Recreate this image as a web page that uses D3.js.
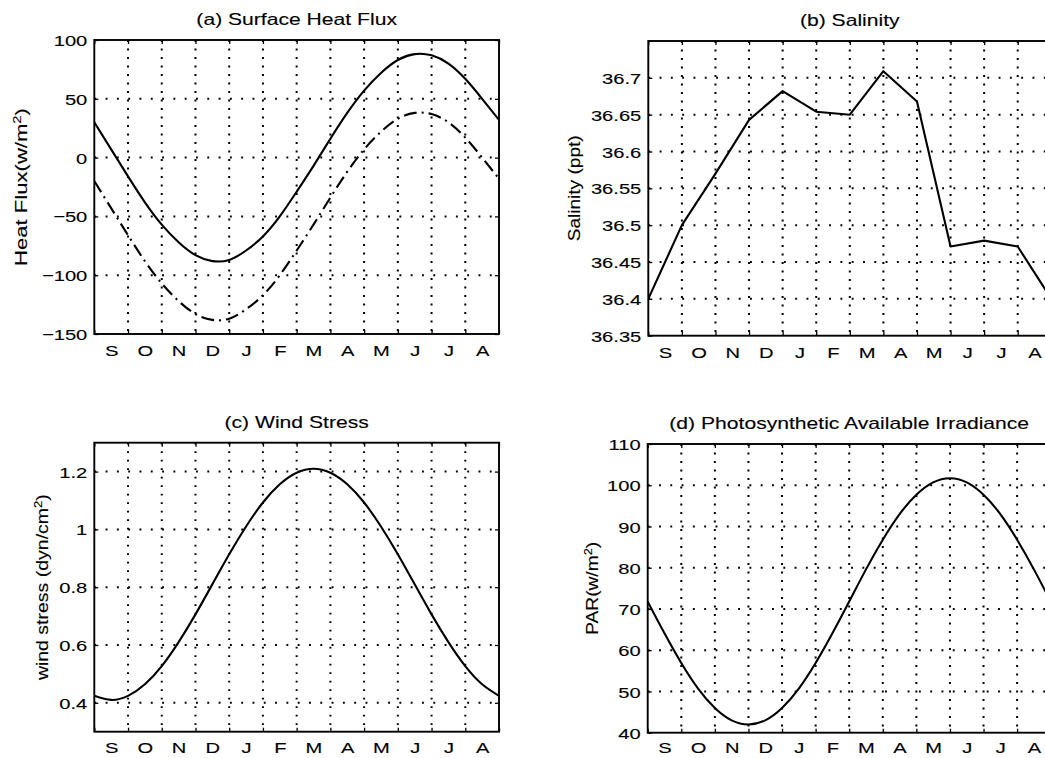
<!DOCTYPE html>
<html>
<head>
<meta charset="utf-8">
<script src="https://cdn.jsdelivr.net/npm/d3@7/dist/d3.min.js"></script>
<style>
  body { margin: 0; background: #fff; }
  svg { display: block; }
  text { stroke: #000; stroke-width: 0.12px; }
</style>
</head>
<body>
<svg id="fig" width="1045" height="758"></svg>
<script>
// Month labels, September to August
const monthLabels = ["S", "O", "N", "D", "J", "F", "M", "A", "M", "J", "J", "A"];
const monthCentres = [0.5, 1.5, 2.5, 3.5, 4.5, 5.5, 6.5, 7.5, 8.5, 9.5, 10.5, 11.5];
const monthEdges = [0, 1, 2, 3, 4, 5, 6, 7, 8, 9, 10, 11, 12];
const interiorEdges = [1, 2, 3, 4, 5, 6, 7, 8, 9, 10, 11];

// Half-monthly sample times (months since 1 September)
const halfMonths = [0, 0.5, 1, 1.5, 2, 2.5, 3, 3.5, 4, 4.5, 5, 5.5, 6, 6.5,
                    7, 7.5, 8, 8.5, 9, 9.5, 10, 10.5, 11, 11.5, 12];

// (a) Surface heat flux, W/m^2
const heatFluxSolid = [30, 7, -16, -38, -57, -72, -83, -88, -87, -79, -67, -50, -29,
                       -7, 16, 38, 57, 72, 83, 88, 87, 80, 67, 50, 32];
const heatFluxDashDot = [-20, -43, -66, -88, -107, -122, -133, -138, -137, -129, -117, -100, -79,
                         -57, -34, -12, 7, 22, 33, 38, 37, 30, 17, 0, -18];
const heatTicks = [-150, -100, -50, 0, 50, 100];

// (b) Monthly salinity, ppt
const salinity = [36.40, 36.50, 36.57, 36.643, 36.682, 36.654, 36.650,
                  36.709, 36.668, 36.471, 36.479, 36.471, 36.40];
const salinityTicks = [36.35, 36.4, 36.45, 36.5, 36.55, 36.6, 36.65, 36.7];

// (c) Wind stress, dyn/cm^2
const windStress = [0.424, 0.410, 0.424, 0.464, 0.527, 0.610, 0.706, 0.810, 0.914, 1.010,
                    1.093, 1.156, 1.196, 1.210, 1.196, 1.156, 1.093, 1.010, 0.914, 0.810,
                    0.706, 0.610, 0.527, 0.464, 0.424];
const windTicks = [0.4, 0.6, 0.8, 1, 1.2];

// (d) Photosynthetically available radiation, W/m^2
const par = [71.8, 64.1, 56.9, 50.7, 46.0, 43.0, 42.0, 43.0, 46.0, 50.7, 56.9, 64.1, 71.8,
             79.6, 86.8, 93.0, 97.7, 100.7, 101.7, 100.7, 97.7, 93.0, 86.8, 79.6, 71.8];
const parTicks = [40, 50, 60, 70, 80, 90, 100, 110];

const svg = d3.select("#fig");
const FONT = "'Liberation Sans', Arial, Helvetica, sans-serif";
const STRETCH = 1.3;

svg.append("rect").attr("width", 1045).attr("height", 758).attr("fill", "#fff");

function drawPanel(cfg) {
  const x = d3.scaleLinear().domain([0, 12]).range([cfg.left, cfg.left + cfg.width]);
  const y = d3.scaleLinear().domain(cfg.yDomain).range([cfg.top + cfg.height, cfg.top]);
  const g = svg.append("g");

  const clipId = "clip-" + cfg.id;
  g.append("clipPath").attr("id", clipId)
    .append("rect")
    .attr("x", cfg.left).attr("y", cfg.top)
    .attr("width", cfg.width).attr("height", cfg.height);

  // dotted grid
  const grid = g.append("g").attr("stroke", "#000").attr("stroke-width", 2);
  grid.selectAll("line.v").data(interiorEdges).join("line")
    .attr("x1", d => x(d)).attr("x2", d => x(d))
    .attr("y1", cfg.top).attr("y2", cfg.top + cfg.height)
    .attr("stroke-dasharray", "1.9 6.6");
  const [y0, y1] = cfg.yDomain;
  grid.selectAll("line.h").data(cfg.yTicks.filter(t => t > y0 + 1e-9 && t < y1 - 1e-9)).join("line")
    .attr("x1", cfg.left).attr("x2", cfg.left + cfg.width)
    .attr("y1", d => y(d)).attr("y2", d => y(d))
    .attr("stroke-dasharray", "1.9 9.4");

  // axes: inward ticks on all four sides
  const tickLen = 4;
  const styleAxis = sel => {
    sel.select(".domain").remove();
    sel.selectAll("line").attr("stroke", "#000").attr("stroke-width", 1.3);
    sel.attr("font-family", FONT);
  };
  g.append("g").attr("transform", `translate(0,${cfg.top + cfg.height})`)
    .call(d3.axisBottom(x).tickValues(monthEdges).tickSize(-tickLen).tickFormat(""))
    .call(styleAxis);
  g.append("g").attr("transform", `translate(0,${cfg.top})`)
    .call(d3.axisTop(x).tickValues(monthEdges).tickSize(-tickLen).tickFormat(""))
    .call(styleAxis);
  g.append("g").attr("transform", `translate(${cfg.left + cfg.width},0)`)
    .call(d3.axisRight(y).tickValues(cfg.yTicks).tickSize(-tickLen).tickFormat(""))
    .call(styleAxis);

  const yAxis = g.append("g").attr("transform", `translate(${cfg.left},0)`)
    .call(d3.axisLeft(y).tickValues(cfg.yTicks).tickSize(-tickLen)
      .tickPadding(7 / STRETCH).tickFormat(cfg.yFormat))
    .call(styleAxis);
  yAxis.selectAll("text")
    .attr("font-size", 15.5).attr("fill", "#000")
    .attr("dy", "0.36em")
    .attr("transform", `scale(${STRETCH},1)`);

  const mAxis = g.append("g").attr("transform", `translate(0,${cfg.top + cfg.height})`)
    .call(d3.axisBottom(x).tickValues(monthCentres).tickSize(0).tickPadding(cfg.monthPad)
      .tickFormat((d, i) => monthLabels[i]))
    .call(styleAxis);
  mAxis.selectAll("text")
    .attr("font-size", 15.5).attr("fill", "#000")
    .attr("transform", `scale(${STRETCH},1)`);

  // data lines
  const lines = g.append("g").attr("clip-path", `url(#${clipId})`);
  cfg.series.forEach(s => {
    const gen = d3.line()
      .x((d, i) => x(s.t[i]))
      .y(d => y(d))
      .curve(s.curve);
    lines.append("path")
      .datum(s.values)
      .attr("d", gen)
      .attr("fill", "none")
      .attr("stroke", "#000")
      .attr("stroke-width", 2.1)
      .attr("stroke-linejoin", "round")
      .attr("stroke-dasharray", s.dash || null);
  });

  // frame
  g.append("rect")
    .attr("x", cfg.left).attr("y", cfg.top)
    .attr("width", cfg.width).attr("height", cfg.height)
    .attr("fill", "none").attr("stroke", "#000").attr("stroke-width", 1.9);

  // title
  g.append("text")
    .attr("transform", `translate(${cfg.left + cfg.width / 2},${cfg.top - 15}) scale(1.28,1)`)
    .attr("text-anchor", "middle")
    .attr("font-family", FONT).attr("font-size", 16.5).attr("fill", "#000")
    .text(cfg.title);

  // y label, rotated, with optional superscript
  const yl = g.append("text")
    .attr("text-anchor", "middle")
    .attr("font-family", FONT).attr("font-size", 16.5).attr("fill", "#000");
  cfg.ylabel.forEach(p => {
    const ts = yl.append("tspan").text(p.text);
    if (p.sup) ts.attr("font-size", 11).attr("dy", -6.5);
    else if (p.after) ts.attr("dy", 6.5);
  });
  const natural = yl.node().getComputedTextLength();
  const sx = cfg.ylabelLength / natural;
  yl.attr("transform",
    `translate(${cfg.ylabelX},${cfg.top + cfg.height / 2}) rotate(-90) scale(${sx},1)`);
}

const trimFmt = d => d3.format(".2f")(d).replace(/0+$/, "").replace(/\.$/, "");
const minusFmt = d => (d < 0 ? "\u2212" + Math.abs(d) : String(d));

drawPanel({
  id: "a", left: 94.3, top: 40, width: 404.7, height: 294,
  yDomain: [-150, 100], yTicks: heatTicks, yFormat: minusFmt, monthPad: 11,
  title: "(a) Surface Heat Flux",
  ylabel: [{ text: "Heat Flux(w/m" }, { text: "2", sup: true }, { text: ")", after: true }],
  ylabelX: 27, ylabelLength: 158,
  series: [
    { t: halfMonths, values: heatFluxSolid, curve: d3.curveNatural },
    { t: halfMonths, values: heatFluxDashDot, curve: d3.curveNatural, dash: "13 5 2 5" }
  ]
});

drawPanel({
  id: "b", left: 648.3, top: 41, width: 403, height: 294.7,
  yDomain: [36.35, 36.75], yTicks: salinityTicks, yFormat: trimFmt, monthPad: 11.5,
  title: "(b) Salinity",
  ylabel: [{ text: "Salinity (ppt)" }],
  ylabelX: 580, ylabelLength: 106,
  series: [
    { t: monthEdges, values: salinity, curve: d3.curveLinear }
  ]
});

drawPanel({
  id: "c", left: 94.3, top: 442.7, width: 404.7, height: 289,
  yDomain: [0.3, 1.3], yTicks: windTicks, yFormat: trimFmt, monthPad: 10,
  title: "(c) Wind Stress",
  ylabel: [{ text: "wind stress (dyn/cm" }, { text: "2", sup: true }, { text: ")", after: true }],
  ylabelX: 48.3, ylabelLength: 186,
  series: [
    { t: halfMonths, values: windStress, curve: d3.curveNatural }
  ]
});

drawPanel({
  id: "d", left: 647.7, top: 444, width: 403, height: 288.7,
  yDomain: [40, 110], yTicks: parTicks, yFormat: d => String(d), monthPad: 9,
  title: "(d) Photosynthetic Available Irradiance",
  ylabel: [{ text: "PAR(w/m" }, { text: "2", sup: true }, { text: ")", after: true }],
  ylabelX: 598, ylabelLength: 93,
  series: [
    { t: halfMonths, values: par, curve: d3.curveNatural }
  ]
});
</script>
</body>
</html>
